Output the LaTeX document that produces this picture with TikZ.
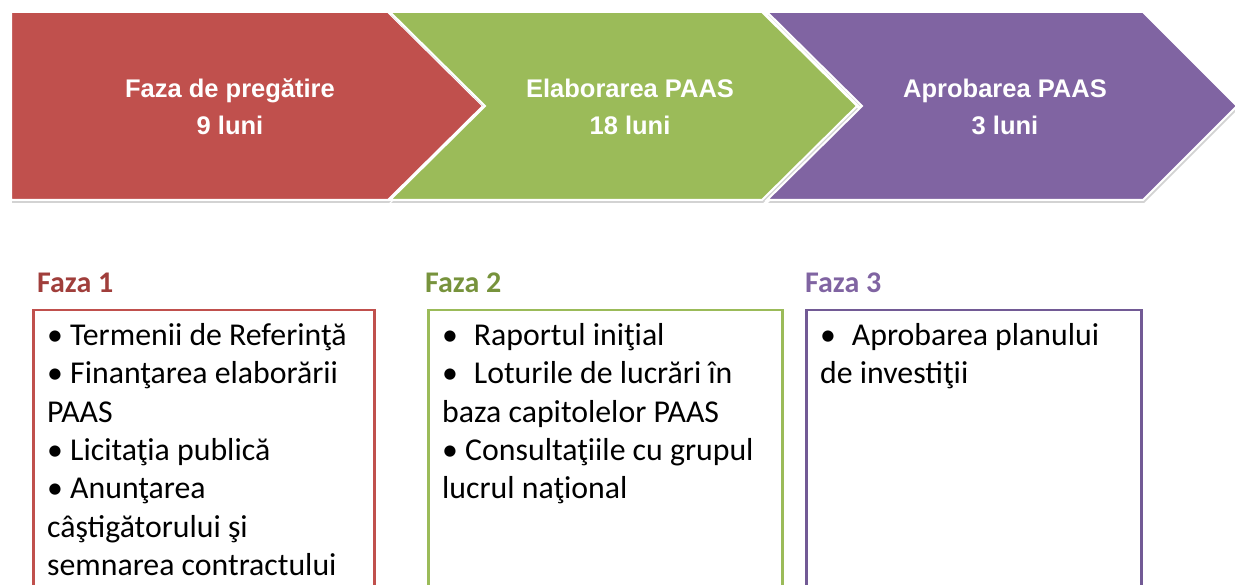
\documentclass[tikz,border=0pt]{standalone}
\usepackage{fontspec}
\setmainfont{Carlito}
\newfontfamily\arrowfont{Liberation Sans}
\usetikzlibrary{shadows}
\definecolor{prepred}{HTML}{C0504D}
\definecolor{elabgreen}{HTML}{9BBB59}
\definecolor{aprobpurple}{HTML}{8064A2}
\definecolor{redlabel}{HTML}{A03E3B}
\definecolor{greenlabel}{HTML}{77933C}
\definecolor{purplelabel}{HTML}{8064A2}
\definecolor{purplebox}{HTML}{725A95}

\begin{document}
\begin{tikzpicture}[x=1pt,y=-1pt,
	chevron/.style={draw=white, line width=2pt, line join=miter, drop shadow={opacity=0.35, shadow xshift=1pt, shadow yshift=-3pt}},
	arrowtext/.style={text=white, font=\arrowfont\bfseries\fontsize{25.5}{37}\selectfont, align=center, inner sep=0pt},
	fazalabel/.style={anchor=base west, inner sep=0pt, font=\bfseries\fontsize{30}{36}\selectfont},
	fazabox/.style={draw, line width=2.5pt, anchor=north west, minimum height=300, inner sep=0pt},
	fazalist/.style={anchor=north west, align=left, inner sep=0pt, font=\fontsize{31.8}{38.4}\selectfont}]
	\useasboundingbox (0,0) rectangle (1235,585);
	% phase arrows
	\filldraw [chevron, fill=prepred] (11,12) -- (388,12) -- (483,106) -- (388,200) -- (11,200) -- cycle;
	\filldraw [chevron, fill=elabgreen] (390,12) -- (762,12) -- (857,106) -- (762,200) -- (390,200) -- (485,106) -- cycle;
	\filldraw [chevron, fill=aprobpurple] (767,12) -- (1143,12) -- (1237,106) -- (1143,200) -- (767,200) -- (862,106) -- cycle;
	\node [arrowtext] (pregatire) at (230,107) {Faza de pregătire\\9 luni};
	\node [arrowtext] (elaborare) at (630,107) {Elaborarea PAAS\\18 luni};
	\node [arrowtext] (aprobare) at (1005,107) {Aprobarea PAAS\\3 luni};
	% phase boxes
	\node [fazalabel, text=redlabel] (faza1) at (37,293) {Faza 1};
	\node [fazalabel, text=greenlabel] (faza2) at (425,293) {Faza 2};
	\node [fazalabel, text=purplelabel] (faza3) at (805,293) {Faza 3};
	\node [fazabox, draw=prepred, minimum width=341] (box1) at (32,309) {};
	\node [fazabox, draw=elabgreen, minimum width=354] (box2) at (427,309) {};
	\node [fazabox, draw=purplebox, minimum width=335] (box3) at (805,309) {};
	\node [fazalist] (list1) at (47,323) {• Termenii de Referinţă\\• Finanţarea elaborării\\PAAS\\• Licitaţia publică\\• Anunţarea\\câştigătorului şi\\semnarea contractului};
	\node [fazalist] (list2) at (442,323) {•\enspace Raportul iniţial\\•\enspace Loturile de lucrări în\\baza capitolelor PAAS\\• Consultaţiile cu grupul\\lucrul naţional};
	\node [fazalist] (list3) at (820,323) {•\enspace Aprobarea planului\\de investiţii};
\end{tikzpicture}
\end{document}
